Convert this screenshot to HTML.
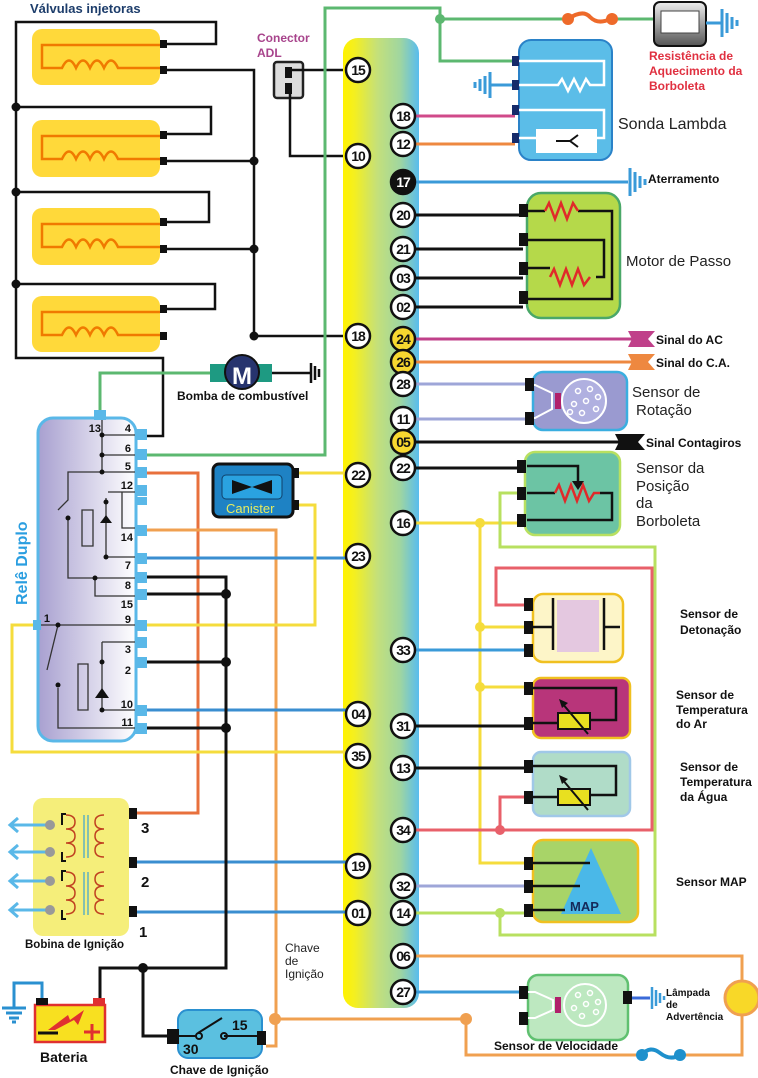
<!DOCTYPE html>
<html><head><meta charset="utf-8"><style>
html,body{margin:0;padding:0;background:#fff;}
svg{display:block;}
text{font-family:"Liberation Sans",Arial,sans-serif;}
.n{font-weight:bold;font-size:14px;text-anchor:middle;letter-spacing:-1px;}
.b{font-weight:bold;}
</style></head><body>
<svg width="758" height="1078" viewBox="0 0 758 1078" xmlns="http://www.w3.org/2000/svg">
<defs>
<linearGradient id="ecu" x1="0" x2="1" y1="0" y2="0">
<stop offset="0" stop-color="#fff200"/><stop offset="0.15" stop-color="#f4ef20"/><stop offset="0.45" stop-color="#c4e07a"/><stop offset="0.75" stop-color="#a0d6a0"/><stop offset="1" stop-color="#58bcee"/>
</linearGradient>
<linearGradient id="rel" x1="0" x2="1"><stop offset="0" stop-color="#a8a0d0"/><stop offset="1" stop-color="#ffffff"/></linearGradient>
<linearGradient id="res" x1="0" x2="0" y1="0" y2="1"><stop offset="0" stop-color="#eee"/><stop offset="1" stop-color="#555"/></linearGradient>
</defs>

<text x="30" y="13" class="b" font-size="13" fill="#1d3d6b">Válvulas injetoras</text>

<g fill="#ffd93a">
<rect x="32" y="29" width="128" height="56" rx="10"/>
<rect x="32" y="120" width="128" height="57" rx="10"/>
<rect x="32" y="208" width="128" height="57" rx="10"/>
<rect x="32" y="296" width="128" height="56" rx="10"/>
</g>
<g fill="none" stroke="#f07a00" stroke-width="2.5">
<path d="M160 45 H42 V68 H62 q7-15 14 0 q7-15 14 0 q7-15 14 0 q7-15 14 0 H160"/>
<path d="M160 136 H42 V159 H62 q7-15 14 0 q7-15 14 0 q7-15 14 0 q7-15 14 0 H160"/>
<path d="M160 224 H42 V247 H62 q7-15 14 0 q7-15 14 0 q7-15 14 0 q7-15 14 0 H160"/>
<path d="M160 312 H42 V335 H62 q7-15 14 0 q7-15 14 0 q7-15 14 0 q7-15 14 0 H160"/>
</g>
<g fill="none" stroke="#111" stroke-width="2.5">
<path d="M163 44 H216 V22 H16 V358 H163 V436 H147"/>
<path d="M16 107 H211 V134 H163"/>
<path d="M16 192 H209 V222 H163"/>
<path d="M16 284 H215 V309 H163"/>
<path d="M163 70 H254 V336 H346"/>
<path d="M163 161 H254 M163 249 H254"/>
</g>
<g fill="#111"><circle cx="16" cy="107" r="4.5"/><circle cx="16" cy="192" r="4.5"/><circle cx="16" cy="284" r="4.5"/>
<circle cx="254" cy="161" r="4.5"/><circle cx="254" cy="249" r="4.5"/><circle cx="254" cy="336" r="4.5"/>
<rect x="160" y="40" width="7" height="8"/><rect x="160" y="66" width="7" height="8"/><rect x="160" y="131" width="7" height="8"/><rect x="160" y="157" width="7" height="8"/>
<rect x="160" y="218" width="7" height="8"/><rect x="160" y="245" width="7" height="8"/><rect x="160" y="305" width="7" height="8"/><rect x="160" y="332" width="7" height="8"/></g>

<text x="257" y="42" class="b" font-size="12" fill="#a8448c">Conector</text>
<text x="257" y="57" class="b" font-size="12" fill="#a8448c">ADL</text>
<rect x="274" y="62" width="29" height="36" rx="3" fill="#ddd" stroke="#222" stroke-width="2.5"/>
<rect x="285" y="67" width="7" height="11" fill="#111"/><rect x="285" y="83" width="7" height="11" fill="#111"/>
<path d="M292 70 H346 M290 94 V156 H346" fill="none" stroke="#111" stroke-width="2.5"/>

<path d="M100 418 V373 H210" fill="none" stroke="#5cb870" stroke-width="3"/>
<path d="M147 455 H325 V8 H440 V61 H515 M440 19 H565 M610 19 H660" fill="none" stroke="#5cb870" stroke-width="3"/>
<circle cx="440" cy="19" r="5" fill="#5cb870"/>
<path d="M568 19 q15 -10 22 -2 q8 8 20 2" fill="none" stroke="#ee6a2a" stroke-width="4"/>
<circle cx="568" cy="19" r="6" fill="#ee6a2a"/><circle cx="612" cy="19" r="6" fill="#ee6a2a"/>
<rect x="654" y="2" width="52" height="44" rx="6" fill="url(#res)" stroke="#111" stroke-width="2"/>
<rect x="661" y="11" width="38" height="22" fill="#fff" stroke="#444"/>
<path d="M706 23 H722" stroke="#3a9ad8" stroke-width="3"/>
<g stroke="#3a9ad8" stroke-width="3"><path d="M722 9 V37 M727 13 V33 M732 17 V29 M737 20 V26"/></g>
<text x="649" y="60" class="b" font-size="12" fill="#e03040">Resistência de</text>
<text x="649" y="75" class="b" font-size="12" fill="#e03040">Aquecimento da</text>
<text x="649" y="90" class="b" font-size="12" fill="#e03040">Borboleta</text>

<rect x="210" y="364" width="62" height="18" fill="#1e9a82"/>
<circle cx="242" cy="372" r="17" fill="#27346e" stroke="#111" stroke-width="2"/>
<text x="242" y="384" font-size="24" class="b" fill="#fff" text-anchor="middle">M</text>
<path d="M272 373 H310" stroke="#111" stroke-width="2.5"/>
<g stroke="#111" stroke-width="2.5"><path d="M311 363 V383 M315 366 V380 M319 369 V377"/></g>
<text x="177" y="400" class="b" font-size="12" fill="#111">Bomba de combustível</text>

<rect x="343" y="38" width="76" height="970" rx="15" fill="url(#ecu)"/>

<g fill="none" stroke-width="3">
<path d="M147 473 H198 V813 H137" stroke="#e8703c"/>
<path d="M147 530 H276 V1046 H266" stroke="#f0a050"/>
<path d="M275 1019 H466 V1055 H640 M680 1055 H742 V956 H403" stroke="#f0a050"/>
<path d="M147 558 H346" stroke="#3a8ed0"/>
<path d="M147 710 H346" stroke="#3a8ed0"/>
<path d="M137 862 H346 M137 912 H346" stroke="#3a8ed0"/>
<path d="M147 625 H315 V505 H297 M297 473 H346" stroke="#f5dc3c"/>
<path d="M38 625 H12 V752 H346" stroke="#f5dc3c"/>
<path d="M147 577 H226 V968 H100 V1000 M143 968 V1036 H170 M147 594 H226 M147 662 H226 M147 728 H226" stroke="#111"/>
</g>
<g fill="#f0a050"><circle cx="275" cy="1019" r="6"/><circle cx="466" cy="1019" r="6"/></g>
<g fill="#111"><circle cx="226" cy="594" r="5"/><circle cx="226" cy="662" r="5"/><circle cx="226" cy="728" r="5"/><circle cx="143" cy="968" r="5"/></g>

<rect x="38" y="418" width="98" height="323" rx="15" fill="url(#rel)" stroke="#5ab8e8" stroke-width="3"/>
<rect x="94" y="410" width="12" height="10" fill="#5ab8e8"/>
<rect x="33" y="620" width="8" height="10" fill="#5ab8e8"/>
<g fill="#5ab8e8">
<rect x="135" y="429" width="12" height="11"/><rect x="135" y="449" width="12" height="11"/><rect x="135" y="467" width="12" height="11"/><rect x="135" y="485" width="12" height="11"/><rect x="135" y="497" width="12" height="8"/><rect x="135" y="525" width="12" height="11"/><rect x="135" y="553" width="12" height="11"/><rect x="135" y="572" width="12" height="11"/><rect x="135" y="589" width="12" height="11"/><rect x="135" y="620" width="12" height="11"/><rect x="135" y="637" width="12" height="11"/><rect x="135" y="657" width="12" height="11"/><rect x="135" y="705" width="12" height="11"/><rect x="135" y="723" width="12" height="11"/>
</g>
<g fill="none" stroke="#333" stroke-width="1.3">
<path d="M102 420 V472 M102 435 H135 M102 455 H135 M102 472 H135 M102 472 H68 V500 L58 510 M68 517 V578 H135 M95 578 V596 H135 M108 492 H135 M106 498 V557 H135 M82 510 H93 V546 H82 Z M122 492 V528 H135 M41 625 H135 M58 625 L47 670 M58 688 V728 H135 M102 642 H135 M102 642 V710 H135 M78 664 H88 V710 H78 Z"/>
</g>
<g fill="#111"><circle cx="102" cy="435" r="2.5"/><circle cx="102" cy="455" r="2.5"/><circle cx="102" cy="472" r="2.5"/><circle cx="68" cy="518" r="2.5"/><circle cx="95" cy="578" r="2.5"/><circle cx="106" cy="502" r="2.5"/><circle cx="106" cy="557" r="2.5"/><circle cx="58" cy="625" r="2.5"/><circle cx="58" cy="685" r="2.5"/><circle cx="102" cy="662" r="2.5"/><circle cx="102" cy="710" r="2.5"/>
<path d="M100 523 L112 523 L106 515 Z"/><path d="M95 698 L109 698 L102 688 Z"/></g>
<g font-size="11" class="b" fill="#111" text-anchor="end">
<text x="101" y="432">13</text><text x="131" y="432">4</text><text x="131" y="452">6</text><text x="131" y="470">5</text><text x="133" y="489">12</text><text x="133" y="541">14</text><text x="131" y="569">7</text><text x="131" y="589">8</text><text x="133" y="608">15</text><text x="131" y="623">9</text><text x="131" y="653">3</text><text x="131" y="674">2</text><text x="133" y="708">10</text><text x="133" y="726">11</text><text x="50" y="622">1</text></g>
<text transform="translate(27,605) rotate(-90)" font-size="16" class="b" fill="#2a9ee0">Relê Duplo</text>

<rect x="213" y="464" width="80" height="53" rx="6" fill="#1e82c4" stroke="#111" stroke-width="3"/>
<rect x="222" y="475" width="60" height="24" rx="4" fill="#2aa2e0" stroke="#10406a"/>
<path d="M232 480 L252 487 L272 480 V494 L252 487 L232 494 Z" fill="#111"/>
<text x="226" y="513" font-size="13" fill="#e6ec60">Canister</text>
<rect x="292" y="468" width="7" height="10" fill="#111"/><rect x="292" y="500" width="7" height="10" fill="#111"/>

<g fill="none" stroke-width="3">
<path d="M403 116 H515" stroke="#d04a8a"/>
<path d="M403 144 H515" stroke="#ee8840"/>
<path d="M403 182 H628" stroke="#3a9ad8"/>
<path d="M403 215 H523 M403 249 H523 M403 278 H523 M403 307 H523" stroke="#111"/>
<path d="M403 339 H632" stroke="#c0408a"/>
<path d="M403 362 H632" stroke="#ee8840"/>
<path d="M403 384 H527 M403 419 H527" stroke="#9ea6d8"/>
<path d="M403 442 H620" stroke="#111"/>
<path d="M403 468 H520" stroke="#111"/>
<path d="M403 523 H520 M480 523 V863 H527 M480 627 H527 M480 687 H527" stroke="#f5dc3c"/>
<path d="M520 493 H500 V547 H655 V935 H500 V913 M403 913 H527" stroke="#b8e060"/>
<path d="M527 605 H496 V568 H652 V830 H403 M527 797 H500 V830" stroke="#e8606a"/>
<path d="M403 650 H527" stroke="#3a9ad8"/>
<path d="M403 726 H527 M403 768 H527" stroke="#111"/>
<path d="M403 886 H527" stroke="#9ea6d8"/>
<path d="M403 992 H523" stroke="#3a9ad8"/>
</g>
<g><circle cx="480" cy="523" r="5" fill="#f5dc3c"/><circle cx="480" cy="627" r="5" fill="#f5dc3c"/><circle cx="480" cy="687" r="5" fill="#f5dc3c"/><circle cx="500" cy="913" r="5" fill="#b8e060"/><circle cx="500" cy="830" r="5" fill="#e8606a"/></g>

<g stroke="#3a9ad8" stroke-width="3"><path d="M630 168 V196 M635 172 V192 M640 176 V188 M645 179 V185"/></g>
<text x="648" y="183" class="b" font-size="12" fill="#111">Aterramento</text>

<rect x="519" y="40" width="93" height="120" rx="12" fill="#5bbde8" stroke="#2a82c8" stroke-width="2"/>
<g fill="none" stroke="#fff" stroke-width="2.5"><path d="M519 61 H604 V85 H590 l-4 -6 l-6 12 l-6 -12 l-6 12 l-6 -12 l-4 6 H519 M519 110 H604 V138 H597 M519 138 H536"/></g>
<rect x="536" y="129" width="61" height="24" fill="#fff"/>
<path d="M556 141 H570 M570 141 L578 135 M570 141 L578 147" stroke="#111" stroke-width="2" fill="none"/>
<g fill="#152a6a"><rect x="512" y="56" width="7" height="10"/><rect x="512" y="80" width="7" height="10"/><rect x="512" y="105" width="7" height="10"/><rect x="512" y="133" width="7" height="10"/></g>
<path d="M512 85 H490" stroke="#3a9ad8" stroke-width="3"/>
<g stroke="#3a9ad8" stroke-width="3"><path d="M490 72 V98 M485 76 V94 M480 79 V91 M475 82 V88"/></g>
<text x="618" y="129" font-size="16" fill="#222">Sonda Lambda</text>

<rect x="527" y="193" width="93" height="125" rx="14" fill="#b5d94a" stroke="#4aa868" stroke-width="2.5"/>
<g fill="none" stroke="#111" stroke-width="2.5"><path d="M527 211 H545 M578 211 H612 V299 H527 M527 240 H604 V277 H596 M527 268 H550"/></g>
<g fill="none" stroke="#e02a2a" stroke-width="2.5"><path d="M545 211 l4 -8 l6 16 l6 -16 l6 16 l6 -16 l5 8"/><path d="M550 277 l4 -8 l6 16 l6 -16 l6 16 l6 -16 l6 16 l6 -8"/></g>
<g fill="#111"><rect x="519" y="204" width="9" height="13"/><rect x="519" y="233" width="9" height="13"/><rect x="519" y="262" width="9" height="13"/><rect x="519" y="291" width="9" height="13"/></g>
<text x="626" y="266" font-size="15" fill="#222">Motor de Passo</text>

<path d="M628 331 L655 331 L648 339 L655 347 L628 347 L632 339 Z" fill="#c0408a"/>
<text x="656" y="344" class="b" font-size="12" fill="#111">Sinal do AC</text>
<path d="M628 354 L655 354 L648 362 L655 370 L628 370 L632 362 Z" fill="#ee8840"/>
<text x="656" y="367" class="b" font-size="12" fill="#111">Sinal do C.A.</text>
<path d="M615 434 L645 434 L638 442 L645 450 L615 450 L619 442 Z" fill="#111"/>
<text x="646" y="447" class="b" font-size="12" fill="#111">Sinal Contagiros</text>

<rect x="533" y="372" width="94" height="58" rx="10" fill="#9a9ad0" stroke="#3aaee0" stroke-width="2.5"/>
<path d="M527 385 H535 L552 393 V409 L535 418 H527" fill="none" stroke="#fff" stroke-width="2"/>
<rect x="555" y="393" width="6" height="16" fill="#b0206a"/>
<circle cx="584" cy="401" r="22" fill="#b0b0e0" stroke="#fff" stroke-width="2"/>
<g fill="none" stroke="#fff" stroke-width="1.5"><circle cx="578" cy="391" r="2.5"/><circle cx="590" cy="389" r="2.5"/><circle cx="598" cy="397" r="2.5"/><circle cx="586" cy="401" r="2.5"/><circle cx="574" cy="404" r="2.5"/><circle cx="596" cy="409" r="2.5"/><circle cx="582" cy="413" r="2.5"/><circle cx="570" cy="412" r="2.5"/></g>
<g fill="#111"><rect x="525" y="378" width="9" height="13"/><rect x="525" y="412" width="9" height="13"/></g>
<text x="632" y="397" font-size="15" fill="#222">Sensor de</text>
<text x="636" y="415" font-size="15" fill="#222">Rotação</text>

<rect x="525" y="452" width="95" height="83" rx="10" fill="#6cc4a4" stroke="#b8e060" stroke-width="2.5"/>
<g fill="none" stroke="#111" stroke-width="2.5"><path d="M527 466 H578 V482 M527 493 H555 M600 493 H612 V520 H527"/></g>
<path d="M572 481 H584 L578 490 Z" fill="#111"/>
<path d="M555 493 l4 -8 l6 16 l6 -16 l6 16 l6 -16 l6 16 l5 -8 h6" fill="none" stroke="#e02a2a" stroke-width="2.5"/>
<g fill="#111"><rect x="517" y="460" width="9" height="13"/><rect x="517" y="487" width="9" height="13"/><rect x="517" y="514" width="9" height="13"/></g>
<g font-size="15" fill="#222"><text x="636" y="473">Sensor da</text><text x="636" y="491">Posição</text><text x="636" y="508">da</text><text x="636" y="526">Borboleta</text></g>

<rect x="533" y="594" width="90" height="68" rx="10" fill="#fdf5c8" stroke="#f0c020" stroke-width="2.5"/>
<rect x="557" y="600" width="42" height="52" fill="#e4c8e0"/>
<path d="M553 598 V650 M604 598 V650 M527 627 H553 M604 627 H620" stroke="#111" stroke-width="2.5" fill="none"/>
<g fill="#111"><rect x="524" y="598" width="9" height="13"/><rect x="524" y="621" width="9" height="13"/><rect x="524" y="644" width="9" height="13"/></g>
<g class="b" font-size="12" fill="#111"><text x="680" y="618">Sensor de</text><text x="680" y="634">Detonação</text></g>

<rect x="533" y="678" width="97" height="60" rx="8" fill="#b8357a" stroke="#f0c020" stroke-width="2.5"/>
<path d="M527 688 H616 V720 H590 M527 723 H558" stroke="#111" stroke-width="2.5" fill="none"/>
<rect x="558" y="713" width="32" height="16" fill="#e8e020" stroke="#111" stroke-width="2"/>
<path d="M562 703 L588 734" stroke="#111" stroke-width="2"/><path d="M559 699 L568 703 L562 708 Z" fill="#111"/>
<g fill="#111"><rect x="524" y="682" width="9" height="13"/><rect x="524" y="717" width="9" height="13"/></g>
<g class="b" font-size="12" fill="#111"><text x="676" y="699">Sensor de</text><text x="676" y="714">Temperatura</text><text x="676" y="728">do Ar</text></g>

<rect x="533" y="752" width="97" height="64" rx="8" fill="#b0dcc8" stroke="#a0c8e8" stroke-width="2.5"/>
<path d="M527 766 H616 V795 H590 M527 797 H558" stroke="#111" stroke-width="2.5" fill="none"/>
<rect x="558" y="789" width="32" height="16" fill="#e8e020" stroke="#111" stroke-width="2"/>
<path d="M562 779 L588 810" stroke="#111" stroke-width="2"/><path d="M559 775 L568 779 L562 784 Z" fill="#111"/>
<g fill="#111"><rect x="524" y="760" width="9" height="13"/><rect x="524" y="791" width="9" height="13"/></g>
<g class="b" font-size="12" fill="#111"><text x="680" y="771">Sensor de</text><text x="680" y="786">Temperatura</text><text x="680" y="801">da Água</text></g>

<rect x="533" y="840" width="105" height="82" rx="10" fill="#a8d468" stroke="#f0c020" stroke-width="2.5"/>
<path d="M591 848 L621 914 H561 Z" fill="#4ab8e8"/>
<path d="M527 863 H590 M527 886 H580 M527 910 H565" stroke="#111" stroke-width="2.5"/>
<text x="570" y="911" class="b" font-size="13" fill="#152a5a">MAP</text>
<g fill="#111"><rect x="524" y="857" width="9" height="13"/><rect x="524" y="880" width="9" height="13"/><rect x="524" y="904" width="9" height="13"/></g>
<text x="676" y="886" class="b" font-size="12" fill="#111">Sensor MAP</text>

<rect x="528" y="975" width="100" height="65" rx="10" fill="#bde8c0" stroke="#60c070" stroke-width="2.5"/>
<path d="M527 992 H535 L553 1000 V1010 L535 1018 H527" fill="none" stroke="#fff" stroke-width="2"/>
<rect x="555" y="997" width="6" height="16" fill="#b0206a"/>
<circle cx="585" cy="1005" r="21" fill="none" stroke="#fff" stroke-width="2"/>
<g fill="none" stroke="#fff" stroke-width="1.5"><circle cx="578" cy="995" r="2.5"/><circle cx="590" cy="993" r="2.5"/><circle cx="598" cy="1002" r="2.5"/><circle cx="586" cy="1004" r="2.5"/><circle cx="574" cy="1008" r="2.5"/><circle cx="596" cy="1012" r="2.5"/><circle cx="582" cy="1016" r="2.5"/></g>
<g fill="#111"><rect x="519" y="986" width="9" height="13"/><rect x="519" y="1012" width="9" height="13"/><rect x="623" y="991" width="9" height="13"/></g>
<path d="M632 998 H650" stroke="#3a6ad8" stroke-width="3"/>
<g stroke="#3a9ad8" stroke-width="2.5"><path d="M652 987 V1009 M656 990 V1006 M660 993 V1003 M664 996 V1000"/></g>
<g class="b" font-size="10" fill="#111"><text x="666" y="996">Lâmpada</text><text x="666" y="1008">de</text><text x="666" y="1020">Advertência</text></g>
<circle cx="742" cy="998" r="17" fill="#f8d828" stroke="#f0a050" stroke-width="3"/>
<path d="M642 1055 q8 -10 18 -2 q10 8 20 2" fill="none" stroke="#1e90cc" stroke-width="4"/>
<circle cx="642" cy="1055" r="6" fill="#1e90cc"/><circle cx="680" cy="1055" r="6" fill="#1e90cc"/>
<text x="494" y="1050" class="b" font-size="12" fill="#111">Sensor de Velocidade</text>

<rect x="33" y="798" width="96" height="138" rx="10" fill="#f5ee7a"/>
<g fill="#111"><rect x="129" y="808" width="8" height="11"/><rect x="129" y="857" width="8" height="11"/><rect x="129" y="906" width="8" height="11"/></g>
<g fill="none" stroke="#c04020" stroke-width="1.5">
<path d="M66 815 q9 0 9 7 q0 7 -9 7 q9 0 9 7 q0 7 -9 7 q9 0 9 7 q0 7 -9 7"/>
<path d="M104 815 q-9 0 -9 7 q0 7 9 7 q-9 0 -9 7 q0 7 9 7 q-9 0 -9 7 q0 7 9 7"/>
<path d="M66 872 q9 0 9 7 q0 7 -9 7 q9 0 9 7 q0 7 -9 7 q9 0 9 7 q0 7 -9 7"/>
<path d="M104 872 q-9 0 -9 7 q0 7 9 7 q-9 0 -9 7 q0 7 9 7 q-9 0 -9 7 q0 7 9 7"/>
</g>
<path d="M84 815 V858 M88 815 V858 M84 872 V915 M88 872 V915" stroke="#60b0c0" stroke-width="1.5"/>
<path d="M62 825 V814 H66 M62 852 V861 H66 M62 881 V871 H66 M62 910 V919 H66" stroke="#111" stroke-width="2" fill="none"/>
<g stroke="#5ab8e8" stroke-width="3" fill="none"><path d="M50 825 H10 M18 818 L10 825 L18 832 M50 852 H10 M18 845 L10 852 L18 859 M50 881 H10 M18 874 L10 881 L18 888 M50 910 H10 M18 903 L10 910 L18 917"/></g>
<g fill="#999"><circle cx="50" cy="825" r="5"/><circle cx="50" cy="852" r="5"/><circle cx="50" cy="881" r="5"/><circle cx="50" cy="910" r="5"/></g>
<g class="b" font-size="15" fill="#111"><text x="141" y="833">3</text><text x="141" y="887">2</text><text x="139" y="937">1</text></g>
<text x="25" y="948" class="b" font-size="11.5" fill="#111">Bobina de Ignição</text>
<g font-size="12" fill="#222"><text x="285" y="952">Chave</text><text x="285" y="965">de</text><text x="285" y="978">Ignição</text></g>

<path d="M42 1000 V983 H14 V1008" fill="none" stroke="#2a90d0" stroke-width="3"/>
<g stroke="#2a90d0" stroke-width="3"><path d="M2 1008 H26 M6 1013 H22 M9 1018 H19 M12 1022 H16"/></g>
<rect x="35" y="1005" width="70" height="37" fill="#f8e020" stroke="#e03030" stroke-width="2.5"/>
<rect x="36" y="998" width="12" height="7" fill="#111"/><rect x="93" y="998" width="12" height="7" fill="#e03030"/>
<path d="M48 1030 L68 1015 L70 1020 L84 1010 L78 1025 L74 1020 L55 1030 Z" fill="#e03030"/>
<path d="M38 1033 H58" stroke="#111" stroke-width="3"/>
<path d="M84 1032 H100 M92 1024 V1040" stroke="#e03030" stroke-width="3"/>
<text x="40" y="1062" class="b" font-size="14" fill="#111">Bateria</text>

<rect x="178" y="1010" width="84" height="48" rx="10" fill="#5bc0e0" stroke="#2a90d0" stroke-width="2"/>
<rect x="167" y="1029" width="12" height="15" fill="#111"/><rect x="257" y="1031" width="9" height="14" fill="#111"/>
<path d="M179 1036 H196 M198 1033 L222 1018 M224 1036 H257" stroke="#111" stroke-width="2" fill="none"/>
<circle cx="199" cy="1036" r="3" fill="none" stroke="#111" stroke-width="2"/><circle cx="224" cy="1036" r="3" fill="none" stroke="#111" stroke-width="2"/>
<text x="232" y="1030" class="b" font-size="14" fill="#111">15</text>
<text x="183" y="1054" class="b" font-size="14" fill="#111">30</text>
<text x="170" y="1074" class="b" font-size="12" fill="#111">Chave de Ignição</text>

<g stroke="#111" stroke-width="2.5" fill="#fff">
<circle cx="358" cy="70" r="12"/><circle cx="358" cy="156" r="12"/><circle cx="358" cy="336" r="12"/><circle cx="358" cy="475" r="12"/><circle cx="358" cy="556" r="12"/><circle cx="358" cy="714" r="12"/><circle cx="358" cy="756" r="12"/><circle cx="358" cy="866" r="12"/><circle cx="358" cy="913" r="12"/>
<circle cx="403" cy="116" r="12"/><circle cx="403" cy="144" r="12"/><circle cx="403" cy="182" r="12" fill="#111"/><circle cx="403" cy="215" r="12"/><circle cx="403" cy="249" r="12"/><circle cx="403" cy="278" r="12"/><circle cx="403" cy="307" r="12"/><circle cx="403" cy="339" r="12" fill="#f8d830"/><circle cx="403" cy="362" r="12" fill="#f8d830"/><circle cx="403" cy="384" r="12"/><circle cx="403" cy="419" r="12"/><circle cx="403" cy="442" r="12" fill="#f8d830"/><circle cx="403" cy="468" r="12"/><circle cx="403" cy="523" r="12"/><circle cx="403" cy="650" r="12"/><circle cx="403" cy="726" r="12"/><circle cx="403" cy="768" r="12"/><circle cx="403" cy="830" r="12"/><circle cx="403" cy="886" r="12"/><circle cx="403" cy="913" r="12"/><circle cx="403" cy="956" r="12"/><circle cx="403" cy="992" r="12"/>
</g>
<g class="n" fill="#111">
<text x="358" y="75">15</text><text x="358" y="161">10</text><text x="358" y="341">18</text><text x="358" y="480">22</text><text x="358" y="561">23</text><text x="358" y="719">04</text><text x="358" y="761">35</text><text x="358" y="871">19</text><text x="358" y="918">01</text>
<text x="403" y="121">18</text><text x="403" y="149">12</text><text x="403" y="187" fill="#fff">17</text><text x="403" y="220">20</text><text x="403" y="254">21</text><text x="403" y="283">03</text><text x="403" y="312">02</text><text x="403" y="344">24</text><text x="403" y="367">26</text><text x="403" y="389">28</text><text x="403" y="424">11</text><text x="403" y="447">05</text><text x="403" y="473">22</text><text x="403" y="528">16</text><text x="403" y="655">33</text><text x="403" y="731">31</text><text x="403" y="773">13</text><text x="403" y="835">34</text><text x="403" y="891">32</text><text x="403" y="918">14</text><text x="403" y="961">06</text><text x="403" y="997">27</text>
</g>
</svg>
</body></html>
